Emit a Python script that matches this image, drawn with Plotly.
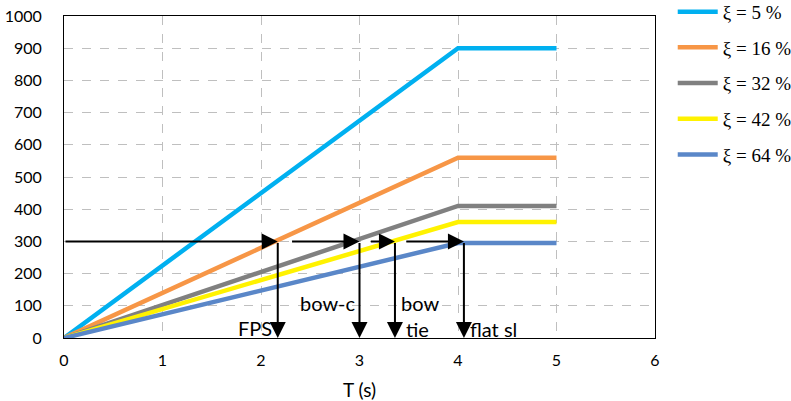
import plotly.graph_objects as go

# Spectral displacement curves: linear rise to the corner period, then constant
T = [0, 4, 5]
damping_labels = ["ξ = 5 %", "ξ = 16 %", "ξ = 32 %", "ξ = 42 %", "ξ = 64 %"]
sd_5 = [0, 900, 900]
sd_16 = [0, 560, 560]
sd_32 = [0, 410, 410]
sd_42 = [0, 360, 360]
sd_64 = [0, 295, 295]
series = [sd_5, sd_16, sd_32, sd_42, sd_64]
colors = ["#00B0F0", "#F79646", "#808080", "#FFF200", "#5A87C8"]

target = 300
arrow_runs = [(0, 2.17), (2.3, 3.0), (3.1, 3.36), (3.46, 4.06)]
drop_periods = [2.17, 3.0, 3.36, 4.06]
device_labels = [
    ("FPS", 2.13, 30, "right"),
    ("bow-c", 2.38, 110, "left"),
    ("bow", 3.4, 110, "left"),
    ("tie", 3.45, 28, "left"),
    ("flat sl", 4.1, 28, "left"),
]

fig = go.Figure()
for name, ys, c in zip(damping_labels, series, colors):
    fig.add_trace(go.Scatter(
        x=T, y=ys, mode="lines", name=name, legendgroup=name,
        line=dict(color=c, width=4.5),
    ))

arrow_style = dict(showarrow=True, arrowhead=2, arrowsize=1.6, arrowwidth=2,
                   arrowcolor="black", axref="x", ayref="y", xref="x", yref="y", text="")
for x0, x1 in arrow_runs:
    fig.add_annotation(x=x1, y=target, ax=x0, ay=target, **arrow_style)
for xp in drop_periods:
    fig.add_annotation(x=xp, y=0, ax=xp, ay=target, **arrow_style)

for txt, xv, yv, anchor in device_labels:
    fig.add_annotation(x=xv, y=yv, text=txt, showarrow=False, xanchor=anchor,
                       yanchor="middle", font=dict(family="Lato", size=20, color="black"))

fig.update_layout(
    width=791, height=401,
    margin=dict(l=64, r=136, t=16, b=63, autoexpand=False),
    paper_bgcolor="white", plot_bgcolor="white",
    font=dict(family="Lato", size=16, color="black"),
    showlegend=True,
    legend=dict(x=1.03, y=1.072, xanchor="left", yanchor="top",
                font=dict(family="Liberation Serif", size=19, color="black"),
                tracegroupgap=8, itemwidth=40, bgcolor="rgba(0,0,0,0)"),
    xaxis=dict(range=[0, 6], dtick=1, showgrid=True, gridcolor="#BFBFBF",
               griddash="dash", gridwidth=1, zeroline=False, showline=True,
               linecolor="black", linewidth=1, mirror=True, ticks="",
               ticklabelstandoff=8, automargin=False,
               title=dict(text="T (s)", standoff=16, font=dict(family="Lato", size=19))),
    yaxis=dict(range=[0, 1000], dtick=100, showgrid=True, gridcolor="#BFBFBF",
               griddash="dash", gridwidth=1, zeroline=False, showline=True,
               linecolor="black", linewidth=1, mirror=True, ticks="",
               ticklabelstandoff=18, automargin=False),
)

fig.write_html("out.html")
